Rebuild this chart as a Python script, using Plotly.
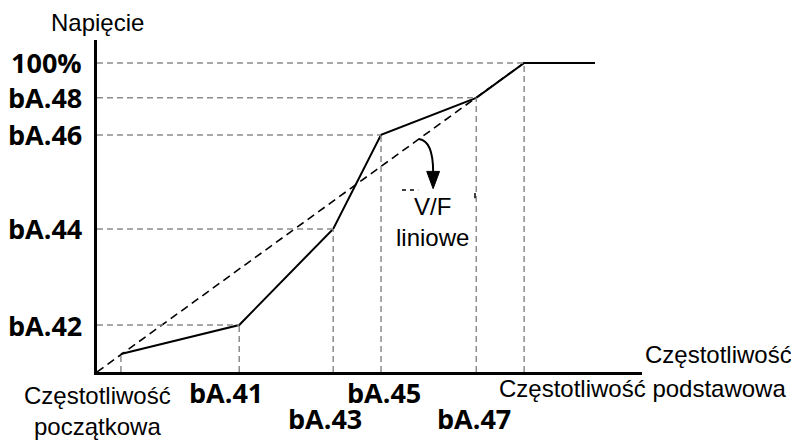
import plotly.graph_objects as go

# ---- data (arbitrary units: base frequency = 100, rated voltage = 100) ----
point_names = ["start", "bA.41", "bA.43", "bA.45", "bA.47", "base", "end"]
freq = [5.6, 33.3, 55.3, 66.5, 88.8, 100.0, 116.6]
volt = [5.8, 15.2, 46.3, 76.7, 88.7, 100.0, 100.0]

linear_freq = [0.0, 100.0]
linear_volt = [0.0, 100.0]

y_tick_vals = [100.0, 88.7, 76.7, 46.3, 15.2]
y_tick_text = ["100%", "bA.48", "bA.46", "bA.44", "bA.42"]

x_label_vals = [33.3, 55.3, 66.5, 88.8]
x_label_text = ["bA.41", "bA.43", "bA.45", "bA.47"]
x_label_row = [0, 1, 0, 1]
x_label_shift = [-13, -8, 3, -2]

X_MAX = 127.6
Y_MAX = 107.4

GRAY = "#8c8c8c"
BOLD_FONT = dict(family="Open Sans", size=27, color="black", weight="bold")
REG_FONT = dict(family="Liberation Sans, Arial", size=24, color="black")

fig = go.Figure()

shapes = []
for i in range(len(freq) - 1):
    fx, vy = freq[i], volt[i]
    shapes.append(dict(type="line", xref="x", yref="y", x0=fx, x1=fx, y0=0, y1=vy,
                       line=dict(color=GRAY, width=1.5, dash="6px,4px")))
    if i > 0:
        shapes.append(dict(type="line", xref="x", yref="y", x0=0, x1=fx, y0=vy, y1=vy,
                           line=dict(color=GRAY, width=1.5, dash="6px,4px")))

# curved arrow pointing to the linear V/F line
shapes.append(dict(type="path", xref="x", yref="y",
                   path="M 75.4,75.4 C 77.5,75.0 78.7,72.1 78.7,64.7",
                   line=dict(color="black", width=2)))
shapes.append(dict(type="path", xref="x", yref="y",
                   path="M 77.2,64.9 L 80.2,64.9 L 78.7,59.3 Z",
                   fillcolor="black", line=dict(color="black", width=1)))
# small stray marks
shapes.append(dict(type="line", xref="x", yref="y", x0=71.4, x1=75.2, y0=58.9, y1=58.9,
                   line=dict(color="black", width=1.5, dash="4px,4px")))
shapes.append(dict(type="line", xref="x", yref="y", x0=88.5, x1=88.5, y0=56.2, y1=57.9,
                   line=dict(color="black", width=1.5)))

fig.add_trace(go.Scatter(x=linear_freq, y=linear_volt, mode="lines",
                         line=dict(color="black", width=1.6, dash="8px,5px"),
                         hoverinfo="skip", showlegend=False, cliponaxis=False))
fig.add_trace(go.Scatter(x=freq, y=volt, mode="lines",
                         line=dict(color="black", width=2),
                         hoverinfo="skip", showlegend=False, cliponaxis=False))

annotations = []
for v, t in zip(y_tick_vals, y_tick_text):
    annotations.append(dict(xref="paper", yref="y", x=0, y=v, text=t, showarrow=False,
                            xanchor="right", yanchor="middle", xshift=-13, font=BOLD_FONT))
for v, t, r, s in zip(x_label_vals, x_label_text, x_label_row, x_label_shift):
    annotations.append(dict(xref="x", yref="paper", x=v, y=0, text=t, showarrow=False,
                            xanchor="center", yanchor="middle", xshift=s,
                            yshift=-20 - 26 * r, font=BOLD_FONT))

annotations += [
    dict(xref="paper", yref="paper", x=0, y=1, text="Napięcie", showarrow=False,
         xanchor="center", yanchor="bottom", yshift=2, font=REG_FONT),
    dict(xref="paper", yref="paper", x=1, y=0, text="Częstotliwość", showarrow=False,
         xanchor="left", yanchor="bottom", xshift=1, yshift=2, font=REG_FONT),
    dict(xref="x", yref="paper", x=0, y=0, text="Częstotliwość<br>początkowa",
         showarrow=False, xanchor="center", yanchor="top", yshift=-8,
         font=REG_FONT, align="center"),
    dict(xref="x", yref="paper", x=100, y=0, text="Częstotliwość podstawowa",
         showarrow=False, xanchor="center", yanchor="top", xshift=118, yshift=-1,
         font=REG_FONT),
    dict(xref="x", yref="y", x=78.5, y=58.6, text="V/F<br>liniowe", showarrow=False,
         xanchor="center", yanchor="top", font=REG_FONT, align="center"),
]

# the page body has an 8px margin, so the figure is laid out 8px smaller
fig.update_layout(
    width=791, height=432,
    margin=dict(l=89, r=157, t=32, b=68),
    paper_bgcolor="white", plot_bgcolor="white",
    shapes=shapes, annotations=annotations,
    xaxis=dict(range=[0, X_MAX], showgrid=False, zeroline=False, showticklabels=False,
               ticks="", showline=True, linecolor="black", linewidth=2.5, fixedrange=True),
    yaxis=dict(range=[0, Y_MAX], showgrid=False, zeroline=False, showticklabels=False,
               ticks="", showline=True, linecolor="black", linewidth=2.5, fixedrange=True),
)

fig.write_html("out.html")
